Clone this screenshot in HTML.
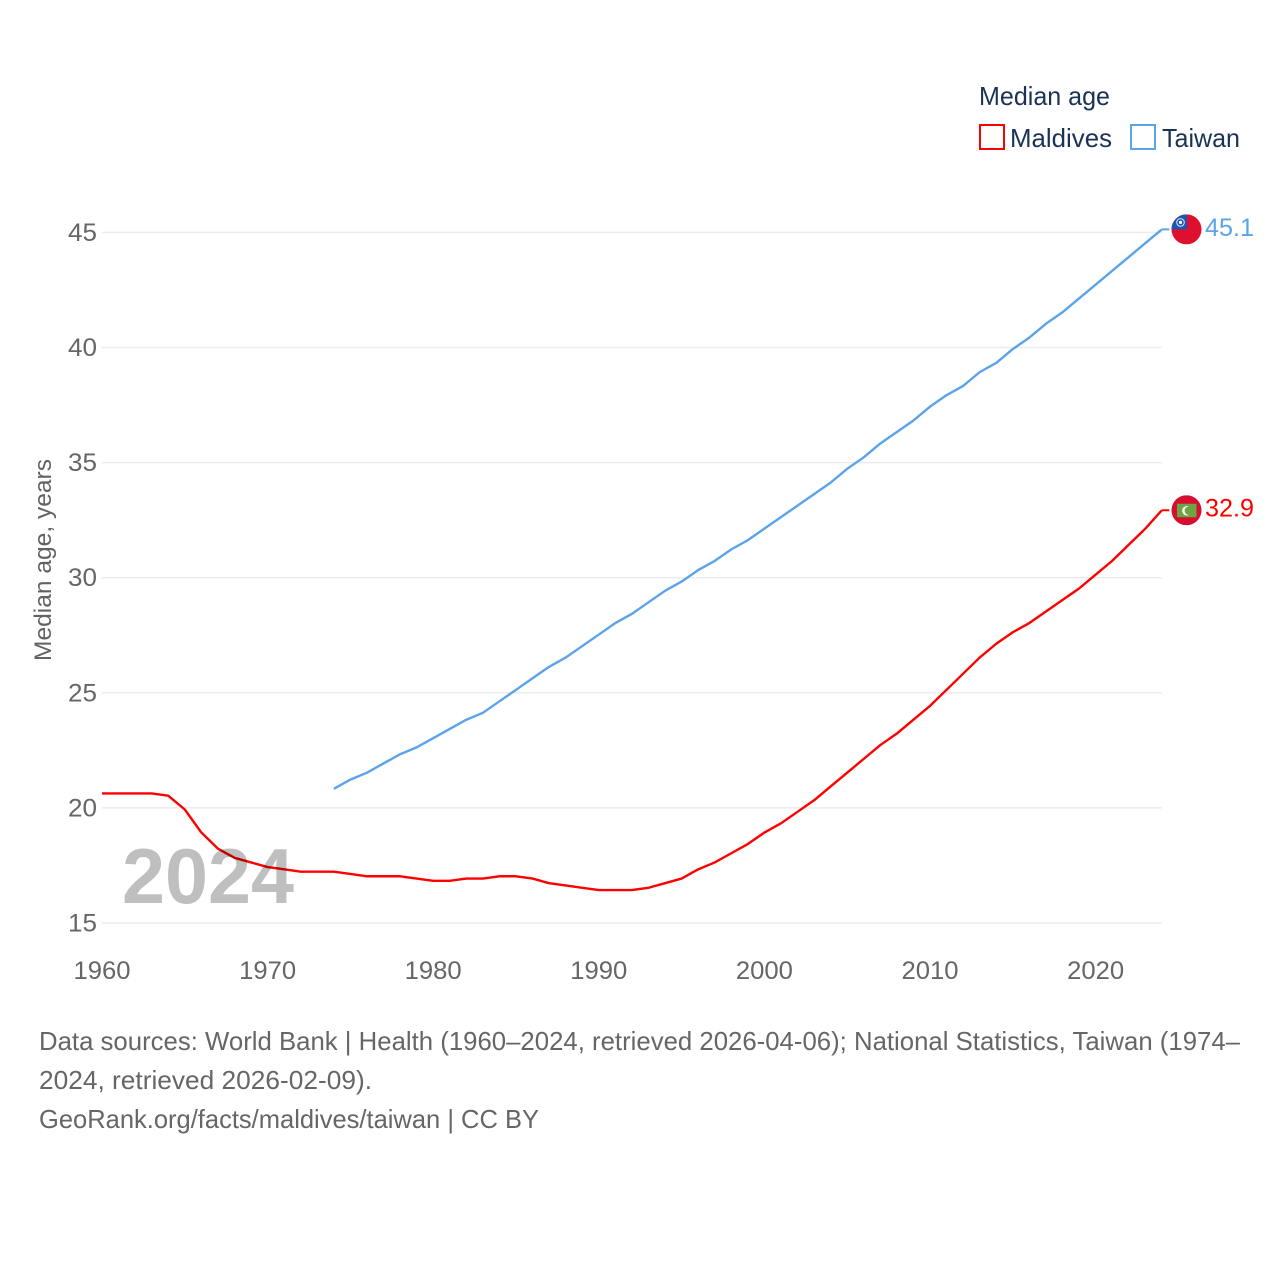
<!DOCTYPE html>
<html lang="en">
<head>
<meta charset="utf-8">
<title>Median age: Maldives and Taiwan</title>
<style>
html,body{margin:0;padding:0;background:#fff;}
svg{display:block;font-family:"Liberation Sans",sans-serif;}
</style>
</head>
<body>
<svg id="chart" xmlns="http://www.w3.org/2000/svg" width="1280" height="1280" viewBox="0 0 1280 1280">
  <rect x="0" y="0" width="1280" height="1280" fill="#fff"/>
  <g id="grid"></g>
  <g id="yticks"></g>
  <g id="xticks"></g>
  <text transform="translate(51,560) rotate(-90)" text-anchor="middle" font-size="24" fill="#636363" textLength="202" lengthAdjust="spacingAndGlyphs">Median age, years</text>
  <g id="series"></g>
  <text x="122" y="903" font-size="78" font-weight="700" fill="#000" fill-opacity="0.25" textLength="172" lengthAdjust="spacingAndGlyphs">2024</text>

  <g id="flag-taiwan">
    <clipPath id="clip-tw"><circle cx="0" cy="0" r="15"/></clipPath>
    <g clip-path="url(#clip-tw)">
      <rect x="-15" y="-15" width="30" height="30" fill="#de0f2f"/>
      <rect x="-15" y="-15" width="15.5" height="15" fill="#1c56b4"/>
      <circle cx="-6" cy="-7" r="3.8" fill="none" stroke="#dfe8f6" stroke-width="1"/>
      <circle cx="-6" cy="-7" r="1.6" fill="#fff"/>
    </g>
  </g>
  <g id="flag-maldives">
    <clipPath id="clip-mv"><circle cx="0" cy="0" r="15"/></clipPath>
    <g clip-path="url(#clip-mv)">
      <rect x="-15" y="-15" width="30" height="30" fill="#d60f30"/>
      <rect x="-9.5" y="-6.5" width="19.5" height="13.5" fill="#6da544"/>
      <circle cx="0.5" cy="0.5" r="4.8" fill="#fff"/>
      <circle cx="2.3" cy="0.5" r="4.2" fill="#6da544"/>
    </g>
  </g>
  <text id="label-taiwan" x="1205" font-size="25" fill="#5ba3ea" textLength="49" lengthAdjust="spacingAndGlyphs"></text>
  <text id="label-maldives" x="1205" font-size="25" fill="#ff0000" textLength="49" lengthAdjust="spacingAndGlyphs"></text>

  <g>
    <text x="979" y="105" font-size="26" fill="#1a3354" textLength="131" lengthAdjust="spacingAndGlyphs">Median age</text>
    <g>
      <rect x="980" y="125" width="24" height="24" fill="#fff" stroke="#ff0000" stroke-width="2"/>
      <text x="1010" y="147" font-size="26" fill="#1a3354" textLength="102" lengthAdjust="spacingAndGlyphs">Maldives</text>
    </g>
    <g>
      <rect x="1131" y="125" width="24" height="24" fill="#fff" stroke="#5ba3ea" stroke-width="2"/>
      <text x="1162" y="147" font-size="26" fill="#1a3354" textLength="78" lengthAdjust="spacingAndGlyphs">Taiwan</text>
    </g>
  </g>

  <g font-size="26" fill="#666">
    <text x="39" y="1050" textLength="1201" lengthAdjust="spacingAndGlyphs">Data sources: World Bank | Health (1960–2024, retrieved 2026-04-06); National Statistics, Taiwan (1974–</text>
    <text x="39" y="1089" textLength="333" lengthAdjust="spacingAndGlyphs">2024, retrieved 2026-02-09).</text>
    <text x="39" y="1128" textLength="500" lengthAdjust="spacingAndGlyphs">GeoRank.org/facts/maldives/taiwan | CC BY</text>
  </g>
</svg>
<script>
const yTicks = [15, 20, 25, 30, 35, 40, 45];
const xTicks = [1960, 1970, 1980, 1990, 2000, 2010, 2020];
const maldivesStart = 1960;
const maldivesValues = [20.6,20.6,20.6,20.6,20.5,19.9,18.9,18.2,17.8,17.6,17.4,17.3,17.2,17.2,17.2,17.1,17.0,17.0,17.0,16.9,16.8,16.8,16.9,16.9,17.0,17.0,16.9,16.7,16.6,16.5,16.4,16.4,16.4,16.5,16.7,16.9,17.3,17.6,18.0,18.4,18.9,19.3,19.8,20.3,20.9,21.5,22.1,22.7,23.2,23.8,24.4,25.1,25.8,26.5,27.1,27.6,28.0,28.5,29.0,29.5,30.1,30.7,31.4,32.1,32.9];
const taiwanStart = 1974;
const taiwanValues = [20.8,21.2,21.5,21.9,22.3,22.6,23.0,23.4,23.8,24.1,24.6,25.1,25.6,26.1,26.5,27.0,27.5,28.0,28.4,28.9,29.4,29.8,30.3,30.7,31.2,31.6,32.1,32.6,33.1,33.6,34.1,34.7,35.2,35.8,36.3,36.8,37.4,37.9,38.3,38.9,39.3,39.9,40.4,41.0,41.5,42.1,42.7,43.3,43.9,44.5,45.1];

const NS = 'http://www.w3.org/2000/svg';
const xScale = year => 102 + (year - 1960) * 16.56;
const yScale = value => 923 - (value - 15) * 23.02;
const markY = value => yScale(value) - 0.7;

function make(tag, parent) {
  const el = document.createElementNS(NS, tag);
  parent.appendChild(el);
  return el;
}

const grid = document.getElementById('grid');
const yGroup = document.getElementById('yticks');
yTicks.forEach(t => {
  const line = make('line', grid);
  
  
  line.setAttribute('x1', xScale(1960));
  line.setAttribute('x2', xScale(2024));
  line.setAttribute('y1', yScale(t));
  line.setAttribute('y2', yScale(t));
  line.setAttribute('stroke', '#ececec');
  line.setAttribute('stroke-width', '1.5');

  const label = make('text', yGroup);
  
  
  label.setAttribute('x', 97);
  label.setAttribute('y', yScale(t) + 8.5);
  label.setAttribute('text-anchor', 'end');
  label.setAttribute('font-size', '25');
  label.setAttribute('fill', '#666');
  label.setAttribute('textLength', '29');
  label.setAttribute('lengthAdjust', 'spacingAndGlyphs');
  label.textContent = t;
});

const xGroup = document.getElementById('xticks');
xTicks.forEach(t => {
  const label = make('text', xGroup);
  
  
  label.setAttribute('x', xScale(t));
  label.setAttribute('y', 979);
  label.setAttribute('text-anchor', 'middle');
  label.setAttribute('font-size', '25');
  label.setAttribute('fill', '#666');
  label.setAttribute('textLength', '57');
  label.setAttribute('lengthAdjust', 'spacingAndGlyphs');
  label.textContent = t;
});

const seriesGroup = document.getElementById('series');
function drawSeries(start, values, color, name) {
  const pts = values.map((v, i) => xScale(start + i).toFixed(2) + ',' + markY(v).toFixed(2));
  const end = markY(values[values.length - 1]).toFixed(2);
  const connector = make('line', seriesGroup);
  
  
  connector.setAttribute('x1', xScale(2024));
  connector.setAttribute('x2', xScale(2024) + 7.5);
  connector.setAttribute('y1', end);
  connector.setAttribute('y2', end);
  connector.setAttribute('stroke', color);
  connector.setAttribute('stroke-width', '2');
  const line = make('polyline', seriesGroup);
  
  
  line.setAttribute('points', pts.join(' '));
  line.setAttribute('fill', 'none');
  line.setAttribute('stroke', color);
  line.setAttribute('stroke-width', '2.4');
  line.setAttribute('stroke-linejoin', 'round');
}
drawSeries(maldivesStart, maldivesValues, '#ff0000', 'maldives');
drawSeries(taiwanStart, taiwanValues, '#5ba3ea', 'taiwan');

const twLast = taiwanValues[taiwanValues.length - 1];
const mvLast = maldivesValues[maldivesValues.length - 1];
document.getElementById('flag-taiwan').setAttribute('transform', 'translate(1186.5,' + markY(twLast) + ')');
document.getElementById('flag-maldives').setAttribute('transform', 'translate(1186.5,' + markY(mvLast) + ')');
const twLabel = document.getElementById('label-taiwan');
twLabel.setAttribute('y', markY(twLast) + 6.5);
twLabel.textContent = twLast.toFixed(1);
const mvLabel = document.getElementById('label-maldives');
mvLabel.setAttribute('y', markY(mvLast) + 6.5);
mvLabel.textContent = mvLast.toFixed(1);
</script>
</body>
</html>
